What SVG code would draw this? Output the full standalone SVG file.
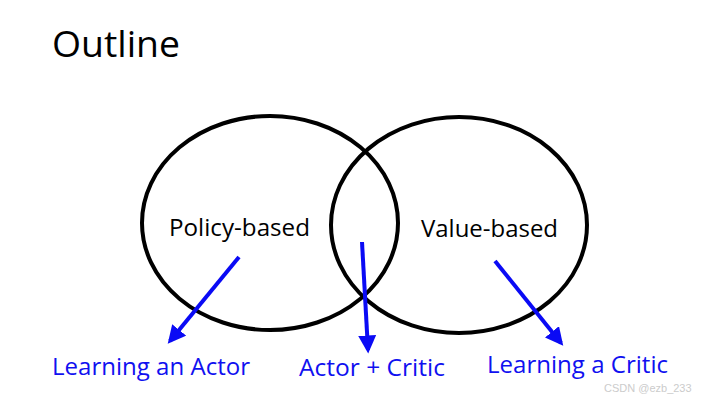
<svg xmlns="http://www.w3.org/2000/svg" width="711" height="401" viewBox="0 0 711 401">
<style>
.t{font-family:"Open Sans","Noto Sans","Liberation Sans",sans-serif;}
.b{fill:#000;font-size:24px;}
.bl{fill:#1010f0;font-size:24px;}
.c{fill:none;stroke:#000;stroke-width:4;}
.a{stroke:#0a0af5;stroke-width:4;fill:none;marker-end:url(#ah);}
</style>
<defs>
<marker id="ah" viewBox="0 0 10 10" refX="8" refY="5" markerWidth="4.5" markerHeight="4.5" orient="auto" markerUnits="strokeWidth">
<path d="M0,0 L10,5 L0,10 z" fill="#0a0af5"/>
</marker>
</defs>
<rect width="711" height="401" fill="#fff"/>
<text class="t" x="52" y="57" font-size="37" fill="#000" textLength="128" lengthAdjust="spacingAndGlyphs">Outline</text>
<g id="policy">
<ellipse class="c" cx="270" cy="223" rx="128" ry="107"/>
<text class="t b" x="169" y="236" textLength="141" lengthAdjust="spacingAndGlyphs">Policy-based</text>
</g>
<g id="value">
<ellipse class="c" cx="459" cy="225" rx="128" ry="108"/>
<text class="t b" x="421" y="237" textLength="137" lengthAdjust="spacingAndGlyphs">Value-based</text>
</g>
<g id="actor">
<text class="t bl" x="52" y="375" textLength="198" lengthAdjust="spacingAndGlyphs">Learning an Actor</text>
</g>
<g id="actorcritic">
<text class="t bl" x="299" y="376" textLength="146" lengthAdjust="spacingAndGlyphs">Actor + Critic</text>
</g>
<g id="critic">
<text class="t bl" x="487" y="373" textLength="181" lengthAdjust="spacingAndGlyphs">Learning a Critic</text>
</g>
<g id="connectors">
<line class="a" x1="239" y1="257" x2="170" y2="341"/>
<line class="a" x1="362" y1="242" x2="368" y2="350"/>
<line class="a" x1="495" y1="261" x2="561" y2="343"/>
</g>
<text x="604" y="392" font-family="Liberation Sans,sans-serif" font-size="11" fill="#cccccc">CSDN @ezb_233</text>
</svg>
